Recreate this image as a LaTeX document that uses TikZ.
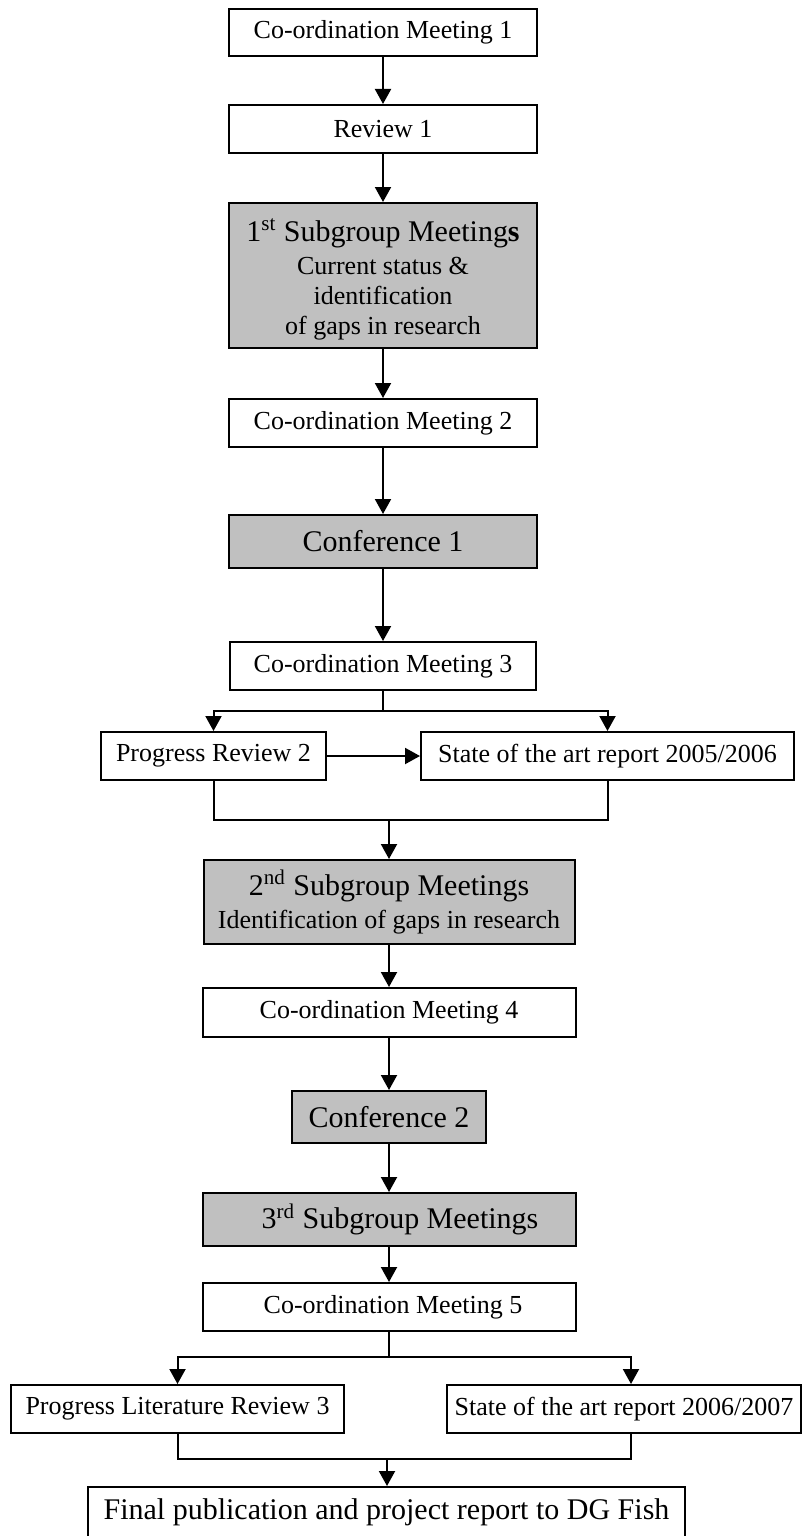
\documentclass[tikz,border=0pt]{standalone}
\usepackage{fontspec}
\setmainfont{Liberation Serif}
\usetikzlibrary{arrows.meta}

\definecolor{boxgrey}{HTML}{C0C0C0}
\tikzset{
    box/.style={draw, line width=1pt, inner sep=0pt, align=center,
        font=\fontsize{13}{15}\selectfont},
    greybox/.style={box, fill=boxgrey},
    big/.style={font=\fontsize{15}{17}\selectfont},
    arr/.style={line width=1pt, -{Triangle[length=7.5pt,width=8pt]}},
    link/.style={line width=1pt}
}

\begin{document}
\begin{tikzpicture}[x=0.5pt,y=-0.5pt]
    \useasboundingbox (0,0) rectangle (803,1536);
    \node[box, minimum width=154pt, minimum height=23.5pt] (cm1) at (383,32.5) {Co-ordination Meeting 1};
    \node[box, minimum width=154pt, minimum height=24pt] (rev1) at (383,129) {Review 1};
    \node[greybox, minimum width=154pt, minimum height=72.5pt] (sub1) at (383,275.5)
        {{\fontsize{15}{15}\selectfont\rule{0pt}{15pt}1\textsuperscript{st} Subgroup Meeting\textbf{s}}\\[1.5pt]
        Current status \&\\
        identification\\
        of gaps in research};
    \node[box, minimum width=154pt, minimum height=24pt] (cm2) at (383,423) {Co-ordination Meeting 2};
    \node[greybox, big, minimum width=154pt, minimum height=26.5pt] (conf1) at (383,541.5) {Conference 1};
    \node[box, minimum width=153pt, minimum height=24pt] (cm3) at (383,666) {Co-ordination Meeting 3};
    \node[box, minimum width=112.5pt, minimum height=24pt] (prog2) at (213.5,756) {Progress Review 2};
    \node[box, minimum width=186.5pt, minimum height=24pt] (art1) at (607.5,756) {State of the art report 2005/2006};
    \node[greybox, minimum width=185.5pt, minimum height=42pt] (sub2) at (389,902)
        {{\fontsize{15}{15}\selectfont 2\textsuperscript{nd} Subgroup Meetings}\\[1.5pt]
        Identification of gaps in research};
    \node[box, minimum width=186.5pt, minimum height=24.5pt] (cm4) at (389,1012.5) {Co-ordination Meeting 4};
    \node[greybox, big, minimum width=97pt, minimum height=26pt] (conf2) at (389,1117) {Conference 2};
    \node[greybox, big, minimum width=186.5pt, minimum height=26.5pt] (sub3) at (389,1219.5)
        {\hspace*{11pt}3\textsuperscript{rd} Subgroup Meetings};
    \node[box, minimum width=186.5pt, minimum height=24pt] (cm5) at (389,1307) {\hspace*{4pt}Co-ordination Meeting 5};
    \node[box, minimum width=166.5pt, minimum height=24pt] (prog3) at (177.5,1409) {Progress Literature Review 3};
    \node[box, minimum width=177pt, minimum height=24pt] (art2) at (624,1409) {State of the art report 2006/2007};
    \node[box, big, minimum width=298.5pt, minimum height=25pt] (final) at (386.5,1512)
        {Final publication and project report to DG Fish};

    \coordinate (split1) at (383,711);
    \coordinate (merge1) at (389,820);
    \coordinate (split2) at (389,1357);
    \coordinate (right2) at (631,1357);
    \coordinate (merge2) at (387,1459);

    \draw[arr] (cm1) -- (rev1);
    \draw[arr] (rev1) -- (sub1);
    \draw[arr] (sub1) -- (cm2);
    \draw[arr] (cm2) -- (conf1);
    \draw[arr] (conf1) -- (cm3);
    \draw[link] (cm3) -- (split1);
    \draw[arr] (split1) -| (prog2);
    \draw[arr] (split1) -| (art1);
    \draw[arr] (prog2) -- (art1);
    \draw[link] (prog2) |- (merge1) -| (art1);
    \draw[arr] (merge1) -- (sub2);
    \draw[arr] (sub2) -- (cm4);
    \draw[arr] (cm4) -- (conf2);
    \draw[arr] (conf2) -- (sub3);
    \draw[arr] (sub3) -- (cm5);
    \draw[link] (cm5) -- (split2);
    \draw[arr] (split2) -| (prog3);
    \draw[arr] (split2) -- (right2) -- (right2 |- art2.north);
    \draw[link] (prog3) |- (merge2) -- (right2 |- merge2) -- (right2 |- art2.south);
    \draw[arr] (merge2) -- (merge2 |- final.north);
\end{tikzpicture}
\end{document}
